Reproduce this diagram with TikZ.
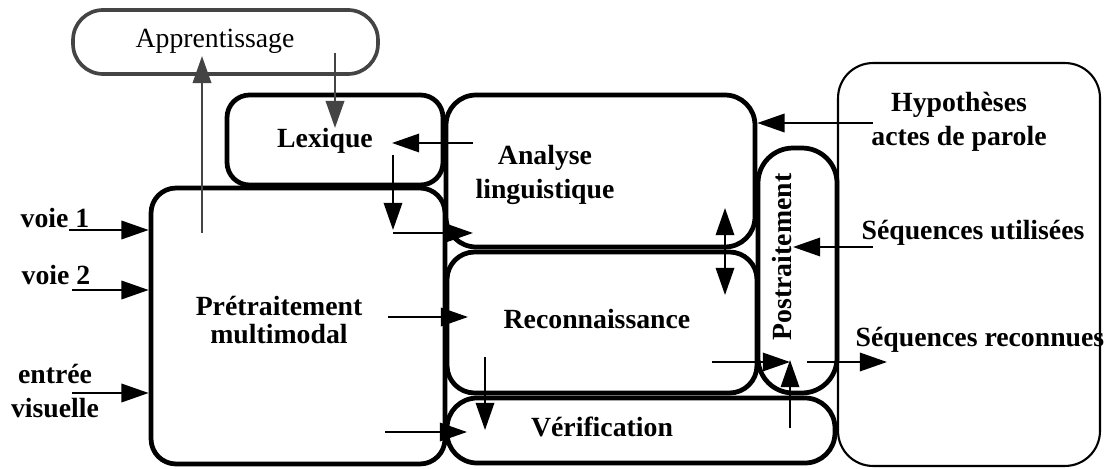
\documentclass[tikz,border=0pt]{standalone}
\usepackage{fontspec}
\setmainfont{Liberation Serif}
\usepackage{xcolor}
\usetikzlibrary{arrows.meta}
\definecolor{learngray}{HTML}{444444}

\tikzset{
  box/.style={draw, line width=2.7pt, rounded corners=0.5cm, inner sep=0pt},
  thinbox/.style={draw, line width=1.2pt, rounded corners=0.7cm, inner sep=0pt},
  arr/.style={-{Triangle[length=15.5pt,width=10.5pt]}, line width=1.2pt},
  darr/.style={{Triangle[length=15.5pt,width=10.5pt]}-{Triangle[length=15.5pt,width=10.5pt]}, line width=1.2pt},
  garr/.style={arr, draw=learngray, fill=learngray, line width=1.5pt},
  lbl/.style={font=\fontsize{15.8}{17}\selectfont\bfseries, inner sep=0pt},
}

\begin{document}
\begin{tikzpicture}[x=0.02cm, y=-0.02cm]
        \useasboundingbox (0,0) rectangle (1104,469);

        % Boxes
        \node[box, draw=learngray, line width=2.1pt, rounded corners=0.6cm,
              minimum width=6.1cm, minimum height=1.28cm] (appr) at (225.5,42) {};
        \node[box, rounded corners=0.45cm, minimum width=4.32cm, minimum height=1.8cm] (lexique) at (335,140) {};
        \node[box, rounded corners=0.6cm, minimum width=6.18cm, minimum height=3.04cm] (analyse) at (600.5,171) {};
        \node[box, minimum width=5.88cm, minimum height=5.52cm] (pretrait) at (298,326) {};
        \node[box, rounded corners=0.55cm, minimum width=6.2cm, minimum height=2.82cm] (reconn) at (602,322.5) {};
        \node[box, rounded corners=0.6cm, minimum width=7.76cm, minimum height=1.3cm] (verif) at (641,430.5) {};
        \node[box, rounded corners=0.7cm, minimum width=1.58cm, minimum height=4.9cm] (postrait) at (797.5,270.5) {};
        \node[thinbox, minimum width=5.24cm, minimum height=8.06cm] (context) at (969,264.5) {};

        % Labels
        \node[lbl, font=\fontsize{15.8}{17}\selectfont, anchor=base] (appr-t) at (215,48) {Apprentissage};
        \node[lbl, anchor=base] (lexique-t) at (325,148) {Lexique};
        \node[lbl, align=center, font=\fontsize{15.8}{19}\selectfont\bfseries] (analyse-t) at (545,175) {Analyse\\linguistique};
        \node[lbl, align=center, font=\fontsize{15.8}{16.4}\selectfont\bfseries] (pretrait-t) at (279,320) {Prétraitement\\multimodal};
        \node[lbl, anchor=base] (reconn-t) at (597,328) {Reconnaissance};
        \node[lbl, anchor=base] (verif-t) at (602,436) {Vérification};
        \node[lbl, rotate=90] (postrait-t) at (782,257) {Postraitement};
        \node[lbl, align=center, font=\fontsize{15.8}{19.5}\selectfont\bfseries] (hyp-t) at (959,122) {Hypothèses\\actes de parole};
        \node[lbl, anchor=base] (util-t) at (973,240) {Séquences utilisées};
        \node[lbl, anchor=base] (recon-t) at (980,346) {Séquences reconnues};
        \node[lbl, anchor=base] (voie1-t) at (55,228) {voie 1};
        \node[lbl, anchor=base] (voie2-t) at (56,284) {voie 2};
        \node[lbl, align=center, font=\fontsize{15.8}{19.3}\selectfont\bfseries] (visu-t) at (55,391) {entrée\\visuelle};

        % Arrow ends
        \coordinate (v1) at (69,230);
        \coordinate (v2) at (72,290);
        \coordinate (v3) at (72,393);
        \coordinate (appr-out) at (335,53);
        \coordinate (lex-in) at (335,128);
        \coordinate (pre-out) at (202,233);
        \coordinate (appr-in) at (202,56);
        \coordinate (ana-lex) at (473,143);
        \coordinate (lex-ana) at (392,143);
        \coordinate (lex-out) at (393,155);
        \coordinate (lex-pre) at (393,230);
        \coordinate (pre-ana) at (393,233);
        \coordinate (ana-in) at (473,233);
        \coordinate (pre-rec) at (388,317);
        \coordinate (rec-in) at (468,317);
        \coordinate (pre-ver) at (385,432);
        \coordinate (ver-in) at (467,432);
        \coordinate (ana-rec) at (725,208);
        \coordinate (rec-ana) at (725,295);
        \coordinate (rec-ver) at (485,357);
        \coordinate (ver-top) at (485,430);
        \coordinate (rec-post) at (712,362);
        \coordinate (post-in) at (790,362);
        \coordinate (ver-post) at (790,428);
        \coordinate (post-low) at (790,360);
        \coordinate (hyp-out) at (873,123);
        \coordinate (util-out) at (873,247);
        \coordinate (post-util) at (793,247);
        \coordinate (post-out) at (807,362);
        \coordinate (recon-end) at (887,362);

        % Inputs
        \draw[arr] (v1) -- (v1 -| pretrait.west);
        \draw[arr] (v2) -- (v2 -| pretrait.west);
        \draw[arr] (v3) -- (v3 -| pretrait.west);

        % Learning loop
        \draw[garr] (appr-out) -- (lex-in);
        \draw[garr] (pre-out) -- (appr-in);

        % Inner flow
        \draw[arr] (ana-lex) -- (lex-ana);
        \draw[arr] (lex-out) -- (lex-pre);
        \draw[arr] (pre-ana) -- (ana-in);
        \draw[arr] (pre-rec) -- (rec-in);
        \draw[arr] (pre-ver) -- (ver-in);
        \draw[darr] (ana-rec) -- (rec-ana);
        \draw[arr] (rec-ver) -- (ver-top);
        \draw[arr] (rec-post) -- (post-in);
        \draw[arr] (ver-post) -- (post-low);

        % Context
        \draw[arr] (hyp-out) -- (hyp-out -| analyse.east);
        \draw[arr] (util-out) -- (post-util);
        \draw[arr] (post-out) -- (recon-end);
\end{tikzpicture}
\end{document}
